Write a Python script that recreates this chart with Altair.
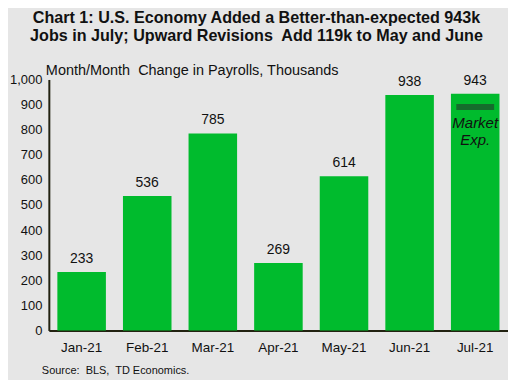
import altair as alt
import pandas as pd

months = ["Jan-21", "Feb-21", "Mar-21", "Apr-21", "May-21", "Jun-21", "Jul-21"]
payrolls = [233, 536, 785, 269, 614, 938, 943]
market_month = ["Jul-21"]
market_exp = [890]

df = pd.DataFrame({"month": months, "value": payrolls})
mdf = pd.DataFrame({"month": market_month, "value": market_exp, "label": ["Market\nExp."]})

FONT = "Liberation Sans"
GREEN = "#00BB2D"
x = alt.X("month:N", sort=months, title=None,
          scale=alt.Scale(paddingInner=0.26, paddingOuter=0.13),
          axis=alt.Axis(labelAngle=0, labelFontSize=13.5, labelColor="#111", ticks=False,
                        domainColor="#222211", domainWidth=2, labelPadding=10))
y = alt.Y("value:Q", title=None,
          scale=alt.Scale(domain=[0, 1000], nice=False),
          axis=alt.Axis(values=list(range(0, 1001, 100)), format=",.0f", labelFontSize=13,
                        labelColor="#111", ticks=False, grid=False, domainColor="#222211",
                        domainWidth=2, labelPadding=7, labelOverlap=False))

bars = alt.Chart(df).mark_bar(color=GREEN).encode(x=x, y=y)
labels = alt.Chart(df).mark_text(dy=-13, fontSize=14, font=FONT, color="#111").encode(
    x=x, y=y, text="value:Q")
marker = alt.Chart(mdf).mark_tick(color="#1E4A2C", thickness=6, size=38).encode(x=x, y=y)
mtext = alt.Chart(mdf).mark_text(dy=16, fontSize=15, font=FONT, fontStyle="italic",
                                 color="#111", lineBreak="\n", lineHeight=17).encode(
    x=x, y=y, text="label:N")

sub = alt.Chart(pd.DataFrame({"t": ["Month/Month\u00a0 Change in Payrolls, Thousands"]})).mark_text(
    align="left", baseline="middle", fontSize=14.5, font=FONT, color="#111").encode(
    x=alt.value(-3), y=alt.value(-8), text="t:N")
src = alt.Chart(pd.DataFrame({"t": ["Source:\u00a0 BLS,\u00a0 TD Economics."]})).mark_text(
    align="left", baseline="middle", fontSize=11, font=FONT, color="#111").encode(
    x=alt.value(-7), y=alt.value(293), text="t:N")

chart = alt.layer(bars, labels, marker, mtext, sub, src).properties(
    width=461, height=252,
    title=alt.TitleParams(
        ["Chart 1: U.S. Economy Added a Better-than-expected 943k",
         "Jobs in July; Upward Revisions\u00a0 Add 119k to May and June"],
        fontSize=16.2, font=FONT, fontWeight="bold", color="#111", anchor="middle",
        dx=-22, offset=19, lineHeight=18.5),
    autosize=alt.AutoSizeParams(type="none"),
    padding={"left": 41, "top": 71, "right": 0, "bottom": 49},
    background="#E6E6E6",
).configure_view(stroke=None).configure_axis(labelFont=FONT)

chart.save("out.html", embed_options={"renderer": "svg", "actions": False})
